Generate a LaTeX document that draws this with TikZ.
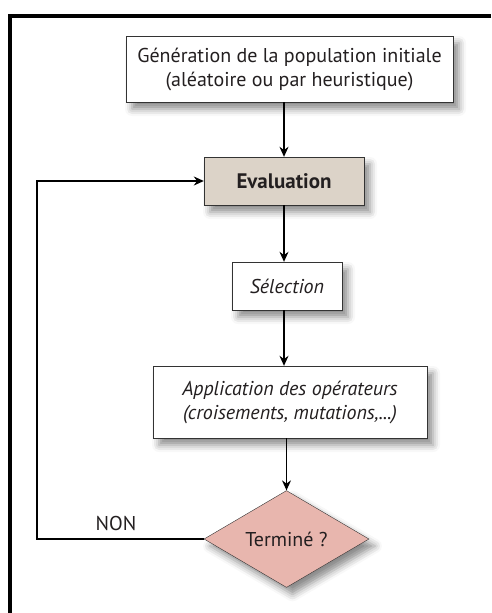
\documentclass[tikz,border=0pt]{standalone}
\usepackage{fontspec}
\setmainfont{PT Sans}
\usepackage{tikz}
\usetikzlibrary{arrows.meta, shapes.geometric, shadows.blur}
\definecolor{evalfill}{HTML}{DCD3C8}
\definecolor{termfill}{HTML}{E8B6AE}
\definecolor{textgray}{HTML}{231F20}
\tikzstyle{ombre}=[blur shadow={shadow xshift=6pt, shadow yshift=-7pt, shadow blur radius=7pt, shadow opacity=45}]
\tikzstyle{box}=[rectangle, draw=black!80, fill=white, thin, ombre, text=textgray, align=center, inner sep=0pt, font=\fontsize{20}{24}\selectfont]
\tikzstyle{boxeval}=[box, fill=evalfill, font=\fontsize{21}{24}\selectfont\bfseries]
\tikzstyle{decision}=[diamond, draw=black!80, fill=termfill, thin, ombre, text=textgray, inner sep=0pt, font=\fontsize{20}{24}\selectfont]
\tikzstyle{arrow}=[draw=black, line width=1.1pt, ->, >={Stealth[length=10pt, width=9pt]}]

\begin{document}
\begin{tikzpicture}[x=1pt, y=-1pt]
		   \useasboundingbox (0,0) rectangle (491,613);
		   \draw[line width=4pt] (491,15.5) -| (10,613);
		   \begin{scope}
			   \node (gen) at (289.5, 69)[box, minimum width=327pt, minimum height=66pt] {Génération de la population initiale\\(aléatoire ou par heuristique)};
			   \node (eval) at (284, 181)[boxeval, minimum width=160pt, minimum height=48pt] {Evaluation};
			   \node (sel) at (287, 286)[box, minimum width=110pt, minimum height=48pt] {\itshape Sélection};
			   \node (app) at (290, 402)[box, minimum width=274pt, minimum height=72pt] {\itshape Application des opérateurs\\\itshape (croisements, mutations,...)};
			   \node (term) at (286.5, 539)[decision, minimum width=165pt, minimum height=91pt] {Terminé ?};
			   \node (non) at (116, 523)[text=textgray, font=\fontsize{20}{24}\selectfont] {NON};
			   \coordinate (coin) at (37, 539);
		   \end{scope}
		   \begin{scope}
			   \draw [arrow] (gen.south -| eval.north) -- (eval.north);
			   \draw [arrow] (eval.south) -- (eval.south |- sel.north);
			   \draw [arrow] (sel.south -| eval.south) -- (app.north -| eval.south);
			   \draw [arrow] (app.south -| term.north) -- (term.north);
			   \draw [arrow] (term.west) -- (coin) |- (eval.west);
		   \end{scope}
	   \end{tikzpicture}
\end{document}
